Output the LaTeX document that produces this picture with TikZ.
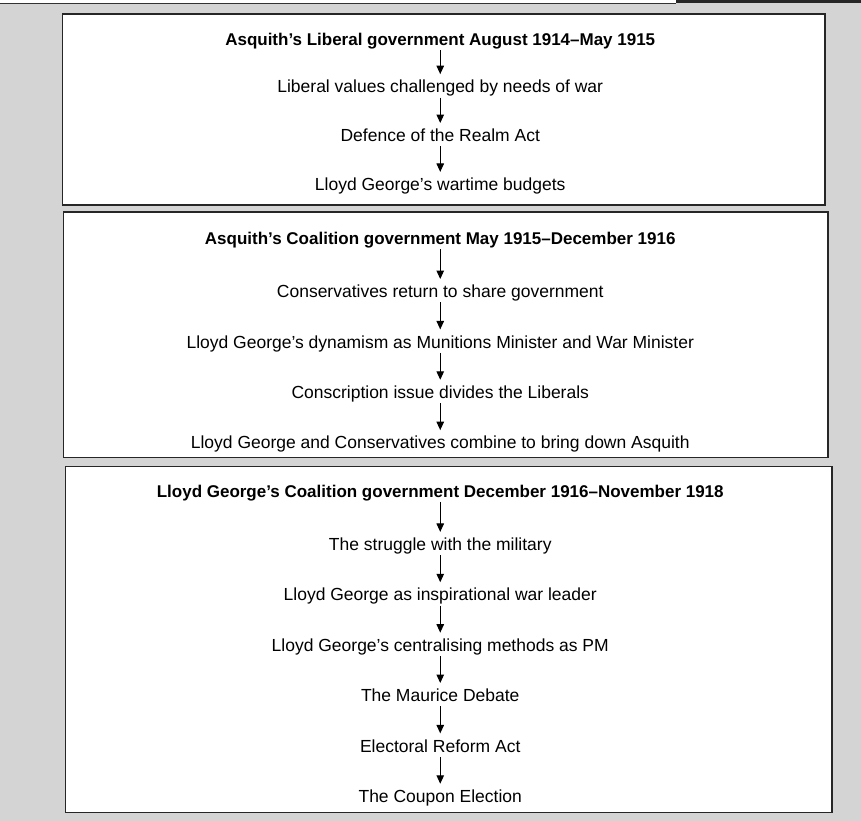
\documentclass[tikz,border=0pt]{standalone}
\usepackage{fontspec}
\setmainfont{Liberation Sans}
\usetikzlibrary{arrows.meta,positioning}
\tikzset{
  item/.style ={inner sep=0pt,text height=12.5pt,text depth=3.5pt,font=\fontsize{17.5}{20}\selectfont},
  head/.style ={item,font=\fontsize{17}{20}\selectfont\bfseries},
  frame/.style={draw=black!85,line width=1.3pt,fill=white},
  ar/.style   ={-{Triangle[length=8.5pt,width=7.5pt]},line width=1.1pt,shorten <=1pt,shorten >=6pt},
}

\begin{document}
\begin{tikzpicture}[x=1pt,y=-1pt]
  % page and frames
  \fill[black!17] (0,0) rectangle (861,821);
  \fill[white] (0,0) rectangle (676,4);
  \draw[black!80,line width=1pt] (0,4)--(676,4);
  \fill[black!85] (676,0) rectangle (861,3);
  \draw[frame] (62,14) rectangle (825,205);
  \draw[frame] (63,212) rectangle (828,458);
  \draw[frame] (65,467) rectangle (832,813);

  % first box
  \begin{scope}[node distance=32.5pt]
  \node[head] (a0) at (440,41) {Asquith’s Liberal government August 1914–May 1915};
  \node[item,below=31pt of a0] (a1) {Liberal values challenged by needs of war};
  \node[item,below=of a1] (a2) {Defence of the Realm Act};
  \node[item,below=of a2] (a3) {Lloyd George’s wartime budgets};
  \foreach \i [count=\j] in {0,1,2} \draw[ar] (a\i) -- (a\j);
  \end{scope}

  % second box
  \begin{scope}[node distance=34pt]
  \node[head] (b0) at (440,240) {Asquith’s Coalition government May 1915–December 1916};
  \node[item,below=37pt of b0] (b1) {Conservatives return to share government};
  \node[item,below=of b1] (b2) {Lloyd George’s dynamism as Munitions Minister and War Minister};
  \node[item,below=of b2] (b3) {Conscription issue divides the Liberals};
  \node[item,below=of b3] (b4) {Lloyd George and Conservatives combine to bring down Asquith};
  \foreach \i [count=\j] in {0,...,3} \draw[ar] (b\i) -- (b\j);
  \end{scope}

  % third box
  \begin{scope}[node distance=34pt]
  \node[head] (c0) at (440,493) {Lloyd George’s Coalition government December 1916–November 1918};
  \node[item,below=37pt of c0] (c1) {The struggle with the military};
  \node[item,below=of c1] (c2) {Lloyd George as inspirational war leader};
  \node[item,below=of c2] (c3) {Lloyd George’s centralising methods as PM};
  \node[item,below=of c3] (c4) {The Maurice Debate};
  \node[item,below=of c4] (c5) {Electoral Reform Act};
  \node[item,below=of c5] (c6) {The Coupon Election};
  \foreach \i [count=\j] in {0,...,5} \draw[ar] (c\i) -- (c\j);
  \end{scope}
\end{tikzpicture}
\end{document}
